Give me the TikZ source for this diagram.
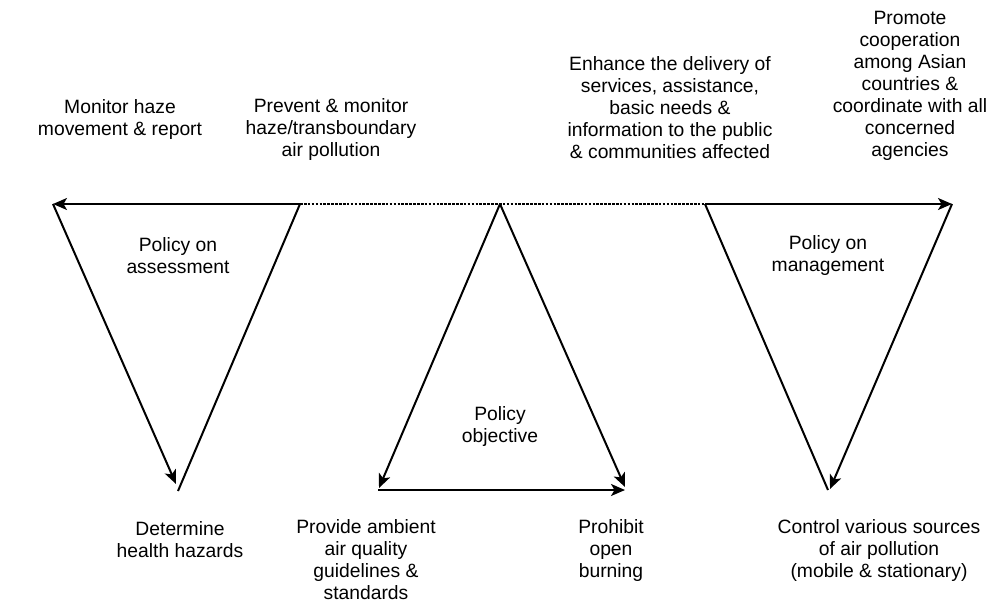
\documentclass[tikz,border=0pt]{standalone}
\usepackage{fontspec}
\setmainfont{Liberation Sans}
\usetikzlibrary{arrows.meta}
\begin{document}
\begin{tikzpicture}[x=1pt,y=-1pt,
  lbl/.style={align=center, font=\fontsize{19.3}{22}\selectfont, inner sep=0pt},
  edge/.style={line width=2pt},
  arr/.style={edge, -{Stealth[length=14pt,width=12pt,inset=3.5pt]}},
  dots/.style={line width=2.6pt, dash pattern=on 2.6pt off 1.3pt}]
\useasboundingbox (0,0) rectangle (1002,604);
% corner points
\coordinate (a1) at (53,204);
\coordinate (b1) at (300,204);
\coordinate (c1) at (176,484);
\coordinate (d1) at (178,491);
\coordinate (m) at (500,204);
\coordinate (l) at (378,490);
\coordinate (r) at (625,490);
\coordinate (ltip) at (379,488);
\coordinate (rtip) at (625,487);
\coordinate (a3) at (705,204);
\coordinate (b3) at (952,204);
\coordinate (c3) at (830,489);
\coordinate (d3) at (828,490);
% connectors
\draw[arr] (b1) -- (a1);
\draw[arr] (a1) -- (c1);
\draw[edge] (b1) -- (d1);
\draw[dots] (b1) -- (a3);
\draw[arr] (m) -- (ltip);
\draw[arr] (m) -- (rtip);
\draw[arr] (l) -- (r);
\draw[arr] (a3) -- (b3);
\draw[arr] (b3) -- (c3);
\draw[edge] (a3) -- (d3);
% labels
\node[lbl] (t1) at (120,119.5) {Monitor haze\\movement \& report};
\node[lbl] (t2) at (331,130) {Prevent \& monitor\\haze/transboundary\\air pollution};
\node[lbl] (t3) at (670,108) {Enhance the delivery of\\services, assistance,\\basic needs \&\\information to the public\\\& communities affected};
\node[lbl] (t4) at (910,86) {Promote\\cooperation\\among Asian\\countries \&\\coordinate with all\\concerned\\agencies};
\node[lbl] (p1) at (178,256) {Policy on\\assessment};
\node[lbl] (p2) at (500,427) {Policy\\objective};
\node[lbl] (p3) at (828,256) {Policy on\\management};
\node[lbl] (b1t) at (180,540) {Determine\\health hazards};
\node[lbl] (b2t) at (366,560) {Provide ambient\\air quality\\guidelines \&\\standards};
\node[lbl] (b3t) at (611,551) {Prohibit\\open\\burning};
\node[lbl] (b4t) at (879,551) {Control various sources\\of air pollution\\(mobile \& stationary)};
\end{tikzpicture}
\end{document}
